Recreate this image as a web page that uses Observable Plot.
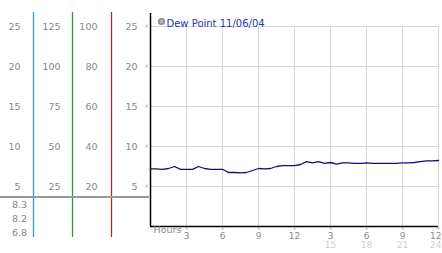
<!DOCTYPE html>
<html><head><meta charset="utf-8">
<script src="https://cdn.jsdelivr.net/npm/d3@7"></script>
<script src="https://cdn.jsdelivr.net/npm/@observablehq/plot@0.6"></script>
<style>body{margin:0;background:#fff}svg{display:block}</style>
</head><body><div id="chart"></div>
<script>
const hours = [0,0.5,1,1.5,2,2.5,3,3.5,4,4.5,5,5.5,6,6.5,7,7.5,8,8.5,9,9.5,10,10.5,11,11.5,12,12.5,13,13.5,14,14.5,15,15.5,16,16.5,17,17.5,18,18.5,19,19.5,20,20.5,21,21.5,22,22.5,23,23.5,24];
const dewPoint = [7.2,7.2,7.15,7.25,7.5,7.15,7.15,7.15,7.5,7.25,7.15,7.15,7.15,6.75,6.75,6.7,6.75,7.0,7.25,7.2,7.25,7.5,7.6,7.6,7.6,7.75,8.1,7.95,8.1,7.9,8.0,7.8,7.95,7.95,7.9,7.9,7.95,7.9,7.9,7.9,7.9,7.9,7.95,7.95,8.0,8.1,8.2,8.2,8.25];
const yTicks = [5,10,15,20,25];
const col2Labels = [25,50,75,100,125];
const col3Labels = [20,40,60,80,100];
const xTicks = [3,6,9,12,15,18,21,24];
const xTickLabels = ["3","6","9","12","3","6","9","12"];
const xTickLabels2 = ["","","","","15","18","21","24"];
const stats = ["8.3","8.2","6.8"];
const seriesName = "Dew Point 11/06/04";

const data = hours.map((h,i)=>({h, v: dewPoint[i]}));
const font = "DejaVu Sans, Verdana, sans-serif";
const gray = "#888";
const mark = "×";

function leftPanel(index, scales, values, dim) {
  const g = d3.create("svg:g");
  const cols = [{x:33.5,c:"#2b9fc9"},{x:72.5,c:"#2e9a2e"},{x:111.5,c:"#b02a2a"}];
  for (const c of cols) g.append("line").attr("x1",c.x).attr("x2",c.x).attr("y1",12).attr("y2",237).attr("stroke",c.c).attr("stroke-width",1.3);
  g.append("line").attr("x1",0).attr("x2",dim.marginLeft-1).attr("y1",197).attr("y2",197).attr("stroke","#9a9a9a").attr("stroke-width",2);
  stats.forEach((s,i)=>g.append("text").attr("x",27).attr("y",205+i*14).attr("dy","0.35em").attr("text-anchor","end")
    .attr("fill",gray).attr("font-size",9.5).attr("font-family",font).text(s));
  return g.node();
}

const lastTick = xTicks.length - 1;
const plot = Plot.plot({
  width: 442, height: 253,
  marginLeft: 150, marginRight: 4, marginTop: 13, marginBottom: 27,
  x: {domain: [0,24], axis: null},
  y: {domain: [0,26.625], axis: null},
  style: {fontFamily: font, fontSize: "9.5px", background: "#fff"},
  marks: [
    Plot.ruleY(yTicks, {x1: 0, x2: 24, stroke: "#d8d8d8"}),
    Plot.ruleX(xTicks, {y1: 0, y2: 25, stroke: "#d8d8d8"}),
    leftPanel,
    Plot.text(yTicks, {x: 0, y: d=>d, text: d=>String(d), dx: -130, textAnchor: "end", fill: gray}),
    Plot.text(col2Labels, {x: 0, y: (d,i)=>yTicks[i], text: d=>String(d), dx: -90, textAnchor: "end", fill: gray}),
    Plot.text(col3Labels, {x: 0, y: (d,i)=>yTicks[i], text: d=>String(d), dx: -53, textAnchor: "end", fill: gray}),
    Plot.text(yTicks, {x: 0, y: d=>d, text: d=>String(d), dx: -13, textAnchor: "end", fill: gray}),
    Plot.text(yTicks, {x: 0, y: d=>d, text: ()=>mark, dx: -4, fill: "#aaa", fontSize: 6}),
    Plot.ruleX([0], {y1: 0, y2: 26.625, stroke: "#000", strokeWidth: 1.5}),
    Plot.ruleY([0], {x1: 0, x2: 24, stroke: "#000", strokeWidth: 1.5}),
    Plot.line(data, {x: "h", y: "v", stroke: "#10107a", strokeWidth: 1.3}),
    Plot.text(xTicks, {x: d=>d, frameAnchor: "bottom", text: ()=>mark, dy: 3.5, fill: "#aaa", fontSize: 6}),
    Plot.text(xTicks.slice(0, lastTick), {x: d=>d, frameAnchor: "bottom", text: (d,i)=>xTickLabels[i], dy: 12.5, fill: gray, fontSize: 9}),
    Plot.text(xTicks.slice(0, lastTick), {x: d=>d, frameAnchor: "bottom", text: (d,i)=>xTickLabels2[i], dy: 21.5, fill: "#cfcfcf", fontSize: 9}),
    Plot.text([xTicks[lastTick]], {x: d=>d, frameAnchor: "bottom", text: ()=>xTickLabels[lastTick], dy: 12.5, dx: 3, textAnchor: "end", fill: gray, fontSize: 9}),
    Plot.text([xTicks[lastTick]], {x: d=>d, frameAnchor: "bottom", text: ()=>xTickLabels2[lastTick], dy: 21.5, dx: 3, textAnchor: "end", fill: "#cfcfcf", fontSize: 9}),
    Plot.text(["Hours"], {frameAnchor: "bottom-left", dx: 3, dy: 6, textAnchor: "start", fill: gray}),
    Plot.dot([0], {frameAnchor: "top-left", dx: 11, dy: 8, r: 2.8, fill: "#b8b8b8", stroke: "#888"}),
    Plot.text([seriesName], {frameAnchor: "top-left", dx: 16, dy: 6, textAnchor: "start", fill: "#2238b0", fontSize: 10})
  ]
});
document.getElementById("chart").appendChild(plot);
</script>
</body></html>
